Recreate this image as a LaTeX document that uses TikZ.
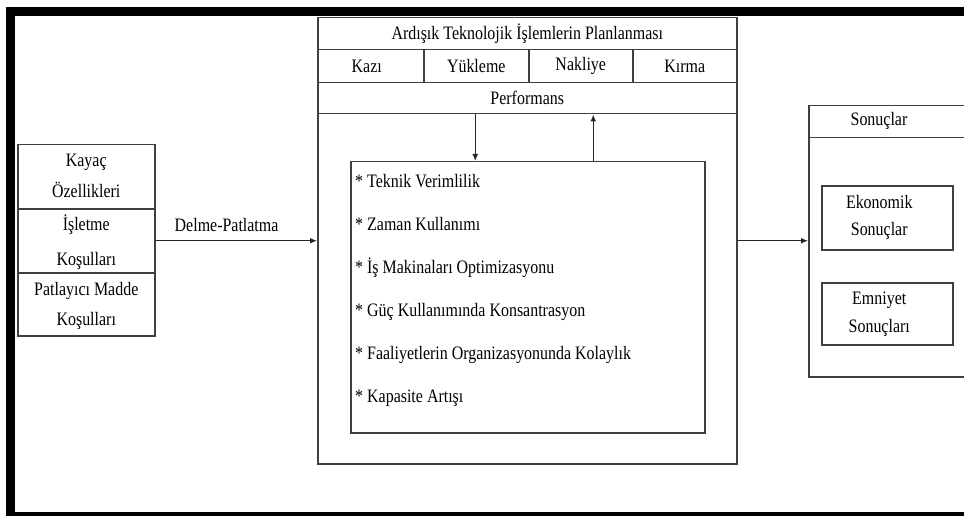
\documentclass[tikz,border=0pt]{standalone}
\usepackage{fontspec}
\setmainfont{Liberation Serif}[FakeStretch=0.84]
\usetikzlibrary{arrows.meta}

\begin{document}
\begin{tikzpicture}[x=1pt,y=-1pt,
  box/.style={draw=black!75, line width=1.5pt, rectangle, inner sep=0pt, anchor=north west},
  lbl/.style={font=\fontsize{19}{31}\selectfont, inner sep=0pt, text=black},
  arr/.style={draw=black!85, line width=1.3pt, -{Latex[length=7pt,width=6pt]}}]
\useasboundingbox (0,0) rectangle (964,516);
\clip (0,0) rectangle (964,516);

% thick outer frame (runs past the right and bottom edges)
\draw[line width=9pt] (10.5,11.5) rectangle (990,516.5);

% main planning block
\node[box, minimum width=419pt, minimum height=446pt] (main) at (317,17) {};
\node[box, minimum width=419pt, minimum height=32pt] (title) at (317,17) {};
\node[lbl] at (title.center) {Ardışık Teknolojik İşlemlerin Planlanması};
\node[box, minimum width=106pt, minimum height=33pt] (kazi) at (317,49) {};
\node[box, minimum width=105pt, minimum height=33pt] (yuk) at (423,49) {};
\node[box, minimum width=104pt, minimum height=33pt] (nak) at (528,49) {};
\node[box, minimum width=104pt, minimum height=33pt] (kir) at (632,49) {};
\node[lbl] at ([xshift=-4pt]kazi.center) {Kazı};
\node[lbl] at (yuk.center) {Yükleme};
\node[lbl] at (nak.center) {Nakliye};
\node[lbl] at (kir.center) {Kırma};
\node[box, minimum width=419pt, minimum height=31pt] (perf) at (317,82) {};
\node[lbl] at (perf.center) {Performans};

% list of performance items
\node[box, minimum width=354pt, minimum height=271pt] (list) at (350,161) {};
\foreach \t [count=\i from 0] in {%
  {* Teknik Verimlilik},
  {* Zaman Kullanımı},
  {* İş Makinaları Optimizasyonu},
  {* Güç Kullanımında Konsantrasyon},
  {* Faaliyetlerin Organizasyonunda Kolaylık},
  {* Kapasite Artışı}}
  \node[lbl, anchor=base west] (item\i) at (355,187+43*\i) {\t};

\draw[arr] ([xshift=-52pt]perf.south) -- ([xshift=-52pt]perf.south |- list.north);
\draw[arr] ([xshift=66pt]perf.south |- list.north) -- ([xshift=66pt]perf.south);

% input conditions
\node[box, minimum width=137pt, minimum height=64pt] (kay) at (17,144) {};
\node[box, minimum width=137pt, minimum height=64pt] (isl) at (17,208) {};
\node[box, minimum width=137pt, minimum height=63pt] (pat) at (17,272) {};
\node[lbl, align=center] at ([yshift=1pt]kay.center) {Kayaç\\Özellikleri};
\node[lbl, align=center, font=\fontsize{19}{35}\selectfont] at ([yshift=-1pt]isl.center) {İşletme\\Koşulları};
\node[lbl, align=center, font=\fontsize{19}{30}\selectfont] at ([yshift=-2pt]pat.center) {Patlayıcı Madde\\Koşulları};

\draw[arr] (isl.east) -- node[lbl, pos=0.44, above=8pt] {Delme-Patlatma} (isl.east -| main.west);

% results
\node[box, minimum width=200pt, minimum height=271pt] (son) at (808,105) {};
\node[box, minimum width=200pt, minimum height=32pt] (sonhead) at (808,105) {};
\node[lbl] at (879,121) {Sonuçlar};
\node[box, minimum width=131pt, minimum height=64pt] (eko) at (821,185) {};
\node[lbl, align=center, font=\fontsize{19}{27}\selectfont] at ([xshift=-8pt]eko.center) {Ekonomik\\Sonuçlar};
\node[box, minimum width=131pt, minimum height=62pt] (emn) at (821,282) {};
\node[lbl, align=center, font=\fontsize{19}{28}\selectfont] at ([xshift=-8pt]emn.center) {Emniyet\\Sonuçları};

\draw[arr] (main.east) -- (main.east -| son.west);
\end{tikzpicture}
\end{document}
